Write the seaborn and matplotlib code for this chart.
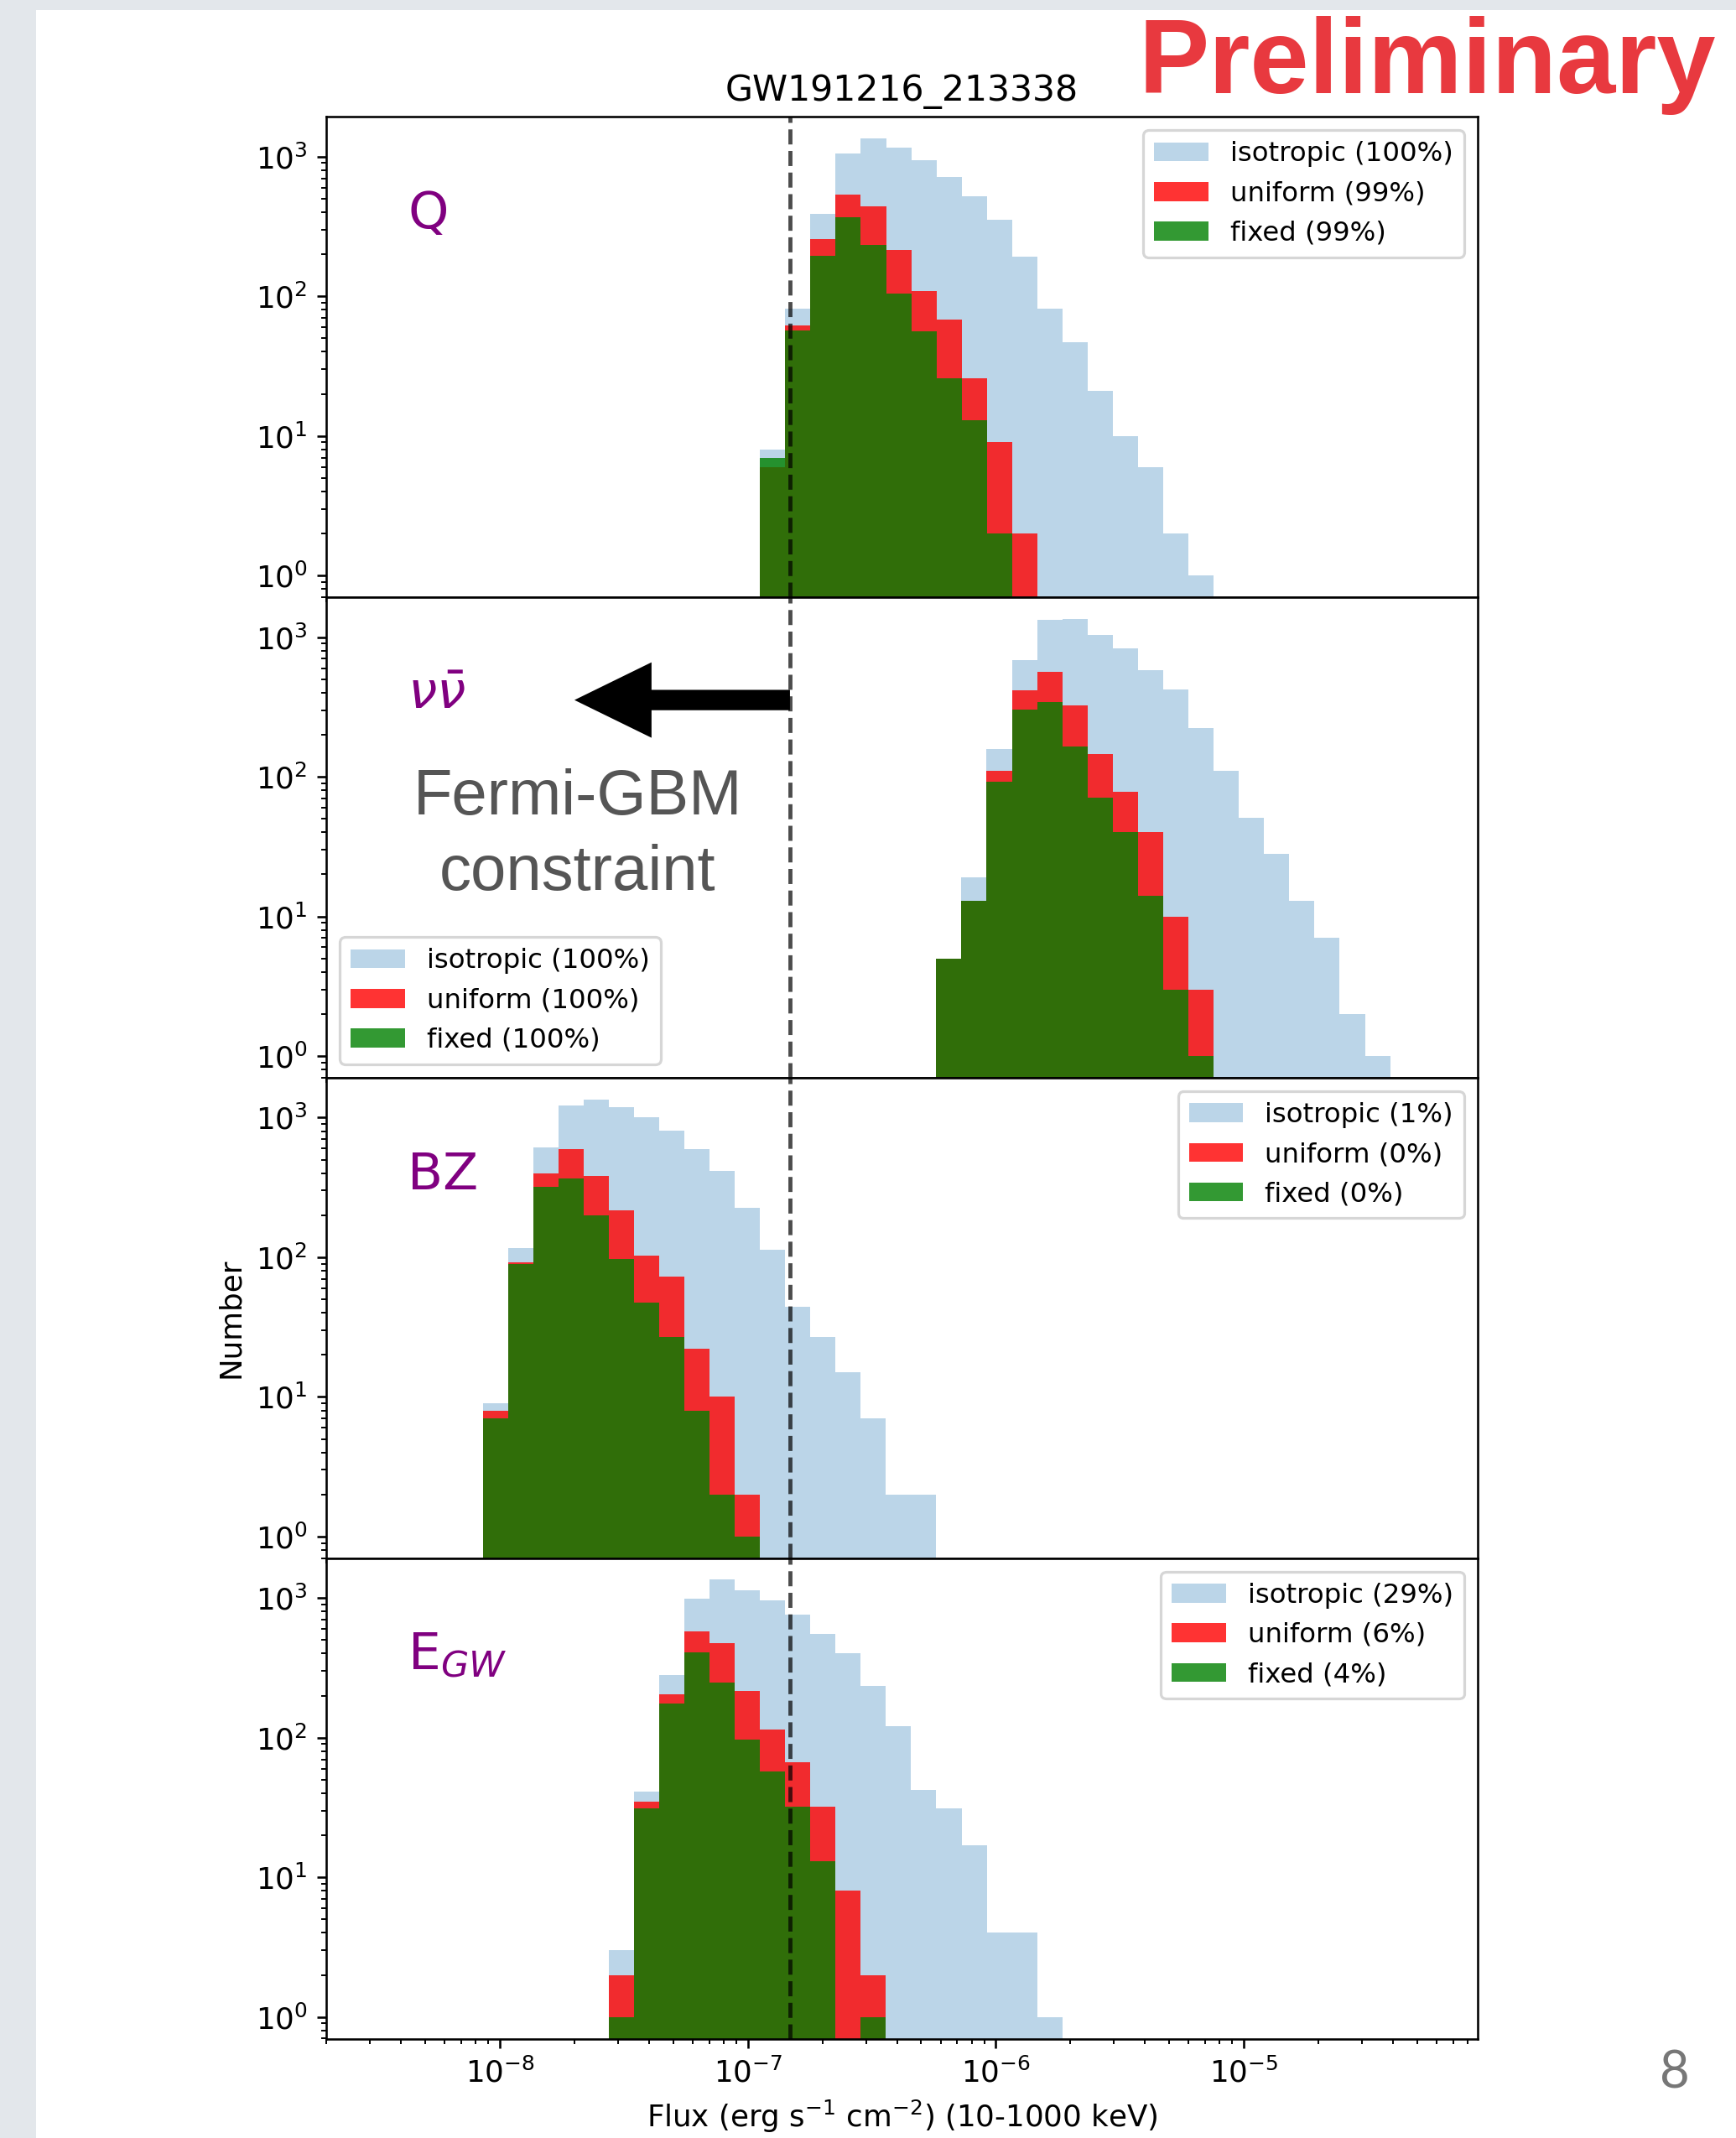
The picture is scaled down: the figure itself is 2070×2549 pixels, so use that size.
import numpy as np
import matplotlib
matplotlib.use("Agg")
import matplotlib.pyplot as plt
import matplotlib.patches as mpatches
from matplotlib.colors import to_rgba
import seaborn as sns

# ---------------- data ----------------
event_name = "GW191216_213338"
panel_labels = ["Q", r"$\nu\bar{\nu}$", "BZ", r"E$_{GW}$"]

# log10 of first / last bin edge for each panel (18 bins each)
bin_lo = [-6.950, -6.240, -8.069, -7.561]
bin_hi = [-5.122, -4.409, -6.240, -5.731]

q_iso = [8, 82, 387, 1051, 1343, 1164, 948, 719, 521, 351, 193, 81, 47, 21, 10, 6, 2, 1]
q_uni = [6, 62, 257, 537, 440, 216, 109, 68, 26, 9, 2, 0, 0, 0, 0, 0, 0, 0]
q_fix = [7, 57, 194, 370, 234, 105, 56, 26, 13, 2, 0, 0, 0, 0, 0, 0, 0, 0]

nn_iso = [5, 19, 157, 682, 1334, 1340, 1038, 833, 576, 419, 222, 111, 51, 28, 13, 7, 2, 1]
nn_uni = [5, 13, 111, 417, 567, 323, 145, 78, 40, 10, 3, 0, 0, 0, 0, 0, 0, 0]
nn_fix = [5, 13, 92, 302, 344, 164, 71, 40, 14, 3, 1, 0, 0, 0, 0, 0, 0, 0]

bz_iso = [9, 116, 614, 1225, 1337, 1182, 1004, 811, 598, 414, 226, 113, 44, 27, 15, 7, 2, 2]
bz_uni = [8, 92, 400, 596, 384, 218, 102, 73, 22, 10, 2, 0, 0, 0, 0, 0, 0, 0]
bz_fix = [7, 90, 318, 366, 198, 97, 47, 27, 8, 2, 1, 0, 0, 0, 0, 0, 0, 0]

egw_iso = [3, 41, 281, 985, 1352, 1130, 964, 762, 552, 400, 236, 121, 42, 31, 17, 4, 4, 1]
egw_uni = [2, 35, 205, 575, 474, 217, 115, 67, 32, 8, 2, 0, 0, 0, 0, 0, 0, 0]
egw_fix = [1, 31, 175, 406, 249, 97, 57, 32, 13, 0, 1, 0, 0, 0, 0, 0, 0, 0]

iso_pct = ["100%", "100%", "1%", "29%"]
uni_pct = ["99%", "100%", "0%", "6%"]
fix_pct = ["99%", "100%", "0%", "4%"]
legend_locs = ["upper right", "lower left", "upper right", "upper right"]

gbm_limit = 1.48e-7
arrow_tip = 2.0e-8

series = [(q_iso, q_uni, q_fix), (nn_iso, nn_uni, nn_fix),
          (bz_iso, bz_uni, bz_fix), (egw_iso, egw_uni, egw_fix)]

c_iso = ("tab:blue", 0.3)
c_uni = ("red", 0.8)
c_fix = ("green", 0.8)

# ---------------- figure ----------------
plt.rcParams["font.size"] = 11
plt.rcParams["legend.fontsize"] = 10

W, H, DPI = 2070, 2549, 233
fig = plt.figure(figsize=(W / DPI, H / DPI), dpi=DPI, facecolor="white")

# slide background strips
fig.add_artist(mpatches.Rectangle((0, 0), 43 / W, 1, transform=fig.transFigure,
                                  color="#e3e7eb", zorder=-5, lw=0))
fig.add_artist(mpatches.Rectangle((0, 1 - 12 / H), 1, 12 / H, transform=fig.transFigure,
                                  color="#e3e7eb", zorder=-5, lw=0))

left, right = 389 / W, 1762 / W
top, bottom = 1 - 139.2 / H, 1 - 2430.5 / H
gs = fig.add_gridspec(4, 1, left=left, right=right, top=top, bottom=bottom, hspace=0)
axes = []
for i in range(4):
    ax = fig.add_subplot(gs[i], sharex=axes[0] if axes else None)
    axes.append(ax)

for i, ax in enumerate(axes):
    edges = np.linspace(bin_lo[i], bin_hi[i], len(series[i][0]) + 1)
    centers = 10 ** (0.5 * (edges[:-1] + edges[1:]))
    for vals, (col, a) in zip(series[i], [c_iso, c_uni, c_fix]):
        sns.histplot(x=centers, weights=np.asarray(vals, float), bins=list(edges),
                     log_scale=True, color=col, alpha=a, linewidth=0,
                     edgecolor="none", stat="count", ax=ax)
    ax.set_yscale("log")
    ax.set_ylim(0.7, 1930)
    ax.set_ylabel("")
    ax.set_xlabel("")
    ax.axvline(gbm_limit, color="k", ls="--", lw=1.5, alpha=0.7)
    ax.text(0.071, 0.768, panel_labels[i], transform=ax.transAxes,
            color="purple", fontsize=19, ha="left", va="baseline")
    handles = [mpatches.Patch(facecolor=to_rgba(*c_iso)),
               mpatches.Patch(facecolor=to_rgba(*c_uni)),
               mpatches.Patch(facecolor=to_rgba(*c_fix))]
    labels = [f"isotropic ({iso_pct[i]})", f"uniform ({uni_pct[i]})", f"fixed ({fix_pct[i]})"]
    ax.legend(handles, labels, loc=legend_locs[i])
    if i < 3:
        ax.tick_params(axis="x", labelbottom=False)

axes[0].set_xlim(10 ** -8.70, 10 ** -4.056)
axes[0].set_title(event_name)
axes[2].set_ylabel("Number")
axes[3].set_xlabel(r"Flux (erg s$^{-1}$ cm$^{-2}$) (10-1000 keV)")

# Fermi-GBM constraint annotation (panel 2)
ax2 = axes[1]
ax2.annotate("", xy=(arrow_tip, 0.786), xytext=(gbm_limit, 0.786),
             xycoords=("data", "axes fraction"), textcoords=("data", "axes fraction"),
             arrowprops=dict(arrowstyle="simple,head_length=0.284,head_width=0.278,tail_width=0.075",
                             mutation_scale=100, color="black", shrinkA=0, shrinkB=0, lw=0))
ax2.text(0.2185, 0.548, "Fermi-GBM", transform=ax2.transAxes, ha="center", va="baseline",
         fontsize=23.5, color="#555555", family="Liberation Sans")
ax2.text(0.2185, 0.390, "constraint", transform=ax2.transAxes, ha="center", va="baseline",
         fontsize=23.5, color="#555555", family="Liberation Sans")

# slide decorations
fig.text(2046 / W, 1 - 110.7 / H, "Preliminary", ha="right", va="baseline",
         fontsize=39, fontweight="bold", color="#e8393f", family="Liberation Sans")
fig.text(1997 / W, 1 - 2472 / H, "8", ha="center", va="center",
         fontsize=19, color="#777777", family="Lato")

fig.savefig("out.png", dpi=DPI, facecolor="white")
